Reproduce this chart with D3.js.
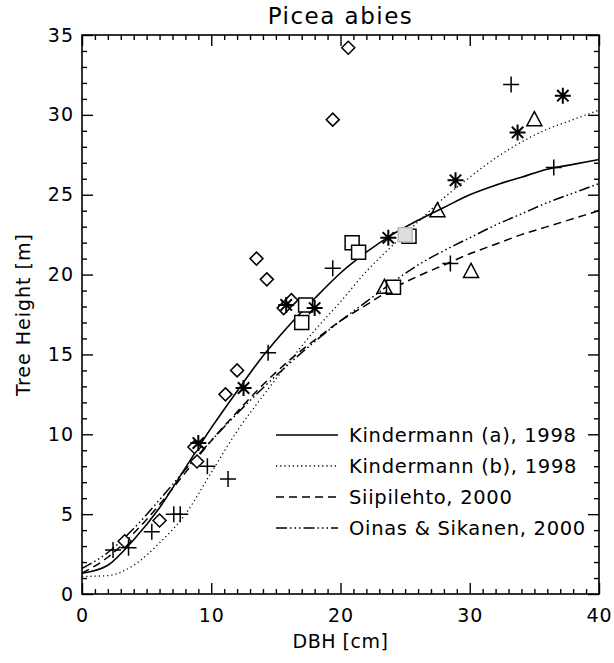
<!DOCTYPE html>
<html>
<head>
<meta charset="utf-8">
<script src="https://cdn.jsdelivr.net/npm/d3@7"></script>
<style>
  body { margin: 0; background: #fff; }
  text { font-family: "DejaVu Sans", sans-serif; fill: #000; }
</style>
</head>
<body>
<svg id="chart" width="614" height="663"></svg>
<script>
// Diameter grid (cm) at which each height curve is tabulated
const dbhGrid = [0, 2, 4, 6, 8, 10, 12, 14, 16, 18, 20, 22, 24, 26, 28, 30, 32, 34, 36, 38, 40];

// Height curves (m)
const kindermannA = [1.3, 1.8, 3.4, 5.4, 7.9, 10.4, 12.7, 14.9, 16.8, 18.5, 20.1, 21.4, 22.5, 23.4, 24.2, 25.0, 25.6, 26.1, 26.6, 26.9, 27.2];
const kindermannB = [1.1, 1.15, 1.8, 3.2, 5.0, 7.6, 10.2, 12.4, 14.5, 16.5, 18.3, 20.2, 21.8, 23.3, 24.8, 26.1, 27.3, 28.3, 29.1, 29.7, 30.3];
const siipilehto  = [1.3, 2.3, 3.8, 5.6, 7.6, 9.6, 11.4, 13.1, 14.6, 15.9, 17.1, 18.1, 19.1, 19.9, 20.6, 21.3, 21.9, 22.5, 23.0, 23.5, 24.0];
const oinasSikanen = [1.6, 2.6, 4.1, 5.9, 7.8, 9.6, 11.3, 12.9, 14.4, 15.8, 17.1, 18.3, 19.5, 20.6, 21.5, 22.3, 23.1, 23.8, 24.5, 25.1, 25.7];

const seriesNames = ["Kindermann (a), 1998", "Kindermann (b), 1998", "Siipilehto, 2000", "Oinas & Sikanen, 2000"];

// Measured trees: [DBH cm, height m], grouped by plotting symbol
const obsDiamond = [[20.6, 34.2], [19.4, 29.7], [13.5, 21.0], [14.3, 19.7], [15.6, 17.9], [16.2, 18.4],
                    [12.0, 14.0], [11.1, 12.5], [8.7, 9.2], [8.9, 8.3], [6.0, 4.6], [3.3, 3.3]];
const obsPlus = [[33.2, 31.9], [36.5, 26.7], [19.4, 20.4], [28.5, 20.7], [14.4, 15.1], [9.7, 8.0],
                 [11.3, 7.2], [7.1, 5.0], [7.6, 5.0], [5.4, 3.9], [2.4, 2.75], [3.6, 2.9]];
const obsAsterisk = [[37.2, 31.2], [33.7, 28.9], [28.9, 25.9], [23.7, 22.3], [18.0, 17.9], [15.8, 18.1],
                     [12.5, 12.9], [9.0, 9.45]];
const obsTriangle = [[35.0, 29.7], [27.5, 24.0], [30.1, 20.2], [23.4, 19.2]];
const obsSquare = [[20.9, 22.0], [21.4, 21.4], [17.3, 18.1], [17.0, 17.0], [24.1, 19.2], [25.3, 22.4]];
const obsSquareGrey = [[25.0, 22.5]];

// Axis ticks
const xMajor = [0, 10, 20, 30, 40];
const yMajor = [0, 5, 10, 15, 20, 25, 30, 35];

const svg = d3.select("#chart");
const margin = { left: 82, right: 15, top: 35, bottom: 69 };
const W = 614, H = 663;
const x = d3.scaleLinear().domain([0, 40]).range([margin.left, W - margin.right]);
const y = d3.scaleLinear().domain([0, 35]).range([H - margin.bottom, margin.top]);

const xMinor = d3.range(0, 41, 1).filter(v => v % 10 !== 0);
const yMinor = d3.range(0, 36, 1).filter(v => v % 5 !== 0);

const majorLen = 11, minorLen = 5;

function styleAxis(g) {
  g.select(".domain").remove();
  g.selectAll(".tick line").attr("stroke", "#000").attr("stroke-width", 1.4);
  g.selectAll(".tick text").style("font-size", "19px").style("letter-spacing", "1px");
}

// bottom
svg.append("g").attr("transform", `translate(0,${y(0)})`)
  .call(d3.axisBottom(x).tickValues(xMajor).tickSize(-majorLen).tickPadding(15).tickFormat(d3.format("d")))
  .call(styleAxis);
svg.append("g").attr("transform", `translate(0,${y(0)})`)
  .call(d3.axisBottom(x).tickValues(xMinor).tickSize(-minorLen).tickFormat(""))
  .call(styleAxis);
// top
svg.append("g").attr("transform", `translate(0,${y(35)})`)
  .call(d3.axisTop(x).tickValues(xMajor).tickSize(-majorLen).tickFormat(""))
  .call(styleAxis);
svg.append("g").attr("transform", `translate(0,${y(35)})`)
  .call(d3.axisTop(x).tickValues(xMinor).tickSize(-minorLen).tickFormat(""))
  .call(styleAxis);
// left
svg.append("g").attr("transform", `translate(${x(0)},0)`)
  .call(d3.axisLeft(y).tickValues(yMajor).tickSize(-majorLen).tickPadding(8).tickFormat(d3.format("d")))
  .call(styleAxis);
svg.append("g").attr("transform", `translate(${x(0)},0)`)
  .call(d3.axisLeft(y).tickValues(yMinor).tickSize(-minorLen).tickFormat(""))
  .call(styleAxis);
// right
svg.append("g").attr("transform", `translate(${x(40)},0)`)
  .call(d3.axisRight(y).tickValues(yMajor).tickSize(-majorLen).tickFormat(""))
  .call(styleAxis);
svg.append("g").attr("transform", `translate(${x(40)},0)`)
  .call(d3.axisRight(y).tickValues(yMinor).tickSize(-minorLen).tickFormat(""))
  .call(styleAxis);

// frame
svg.append("rect")
  .attr("x", x(0)).attr("y", y(35))
  .attr("width", x(40) - x(0)).attr("height", y(0) - y(35))
  .attr("fill", "none").attr("stroke", "#000").attr("stroke-width", 1.6);

// titles
svg.append("text").attr("x", (x(0) + x(40)) / 2).attr("y", 24)
  .attr("text-anchor", "middle").style("font-size", "23px").style("letter-spacing", "1.5px").text("Picea abies");
svg.append("text").attr("x", (x(0) + x(40)) / 2).attr("y", 648)
  .attr("text-anchor", "middle").style("font-size", "19px").style("letter-spacing", "0.5px").text("DBH [cm]");
svg.append("text")
  .attr("transform", `translate(30,${(y(0) + y(35)) / 2}) rotate(-90)`)
  .attr("text-anchor", "middle").style("font-size", "19px").style("letter-spacing", "1px").text("Tree Height [m]");

// curves
const dashes = [null, "1.2,3", "8,5", "11,3,1.5,3,1.5,3,1.5,3"];
const widths = [1.6, 1.3, 1.5, 1.5];
const curves = [kindermannA, kindermannB, siipilehto, oinasSikanen];
const line = d3.line().x(d => x(d[0])).y(d => y(d[1])).curve(d3.curveMonotoneX);
const plot = svg.append("g");
curves.forEach((vals, i) => {
  plot.append("path")
    .datum(dbhGrid.map((d, j) => [d, vals[j]]))
    .attr("d", line)
    .attr("fill", "none").attr("stroke", "#000")
    .attr("stroke-width", widths[i])
    .attr("stroke-dasharray", dashes[i]);
});

// symbols
const marks = svg.append("g").attr("fill", "none").attr("stroke", "#000");
marks.selectAll(".dia").data(obsDiamond).join("path")
  .attr("transform", d => `translate(${x(d[0])},${y(d[1])})`)
  .attr("d", "M0,-6.5L6.5,0L0,6.5L-6.5,0Z").attr("stroke-width", 1.5).attr("fill", "#fff");
marks.selectAll(".sq").data(obsSquare).join("path")
  .attr("transform", d => `translate(${x(d[0])},${y(d[1])})`)
  .attr("d", "M-7,-7H7V7H-7Z").attr("stroke-width", 1.5).attr("fill", "#fff");
marks.selectAll(".sqg").data(obsSquareGrey).join("path")
  .attr("transform", d => `translate(${x(d[0])},${y(d[1])})`)
  .attr("d", "M-7,-7H7V7H-7Z").attr("stroke", "#bbb").attr("stroke-width", 1.5).attr("fill", "#ddd");
marks.selectAll(".tri").data(obsTriangle).join("path")
  .attr("transform", d => `translate(${x(d[0])},${y(d[1])})`)
  .attr("d", "M0,-8L7.5,6L-7.5,6Z").attr("stroke-width", 1.5);
marks.selectAll(".plus").data(obsPlus).join("path")
  .attr("transform", d => `translate(${x(d[0])},${y(d[1])})`)
  .attr("d", "M-8,0H8M0,-8V8").attr("stroke-width", 1.5);
marks.selectAll(".ast").data(obsAsterisk).join("path")
  .attr("transform", d => `translate(${x(d[0])},${y(d[1])})`)
  .attr("d", "M-8,0H8M0,-8V8M-5.7,-5.7L5.7,5.7M-5.7,5.7L5.7,-5.7").attr("stroke-width", 2);

// legend
const legend = svg.append("g");
const legY0 = 435, legStep = 31;
seriesNames.forEach((name, i) => {
  const ly = legY0 + i * legStep;
  legend.append("line")
    .attr("x1", 276).attr("x2", 338).attr("y1", ly).attr("y2", ly)
    .attr("stroke", "#000").attr("stroke-width", widths[i])
    .attr("stroke-dasharray", dashes[i]);
  legend.append("text").attr("x", 349).attr("y", ly).attr("dy", "0.35em")
    .style("font-size", "19.5px").style("letter-spacing", "0.7px").text(name);
});
</script>
</body>
</html>
